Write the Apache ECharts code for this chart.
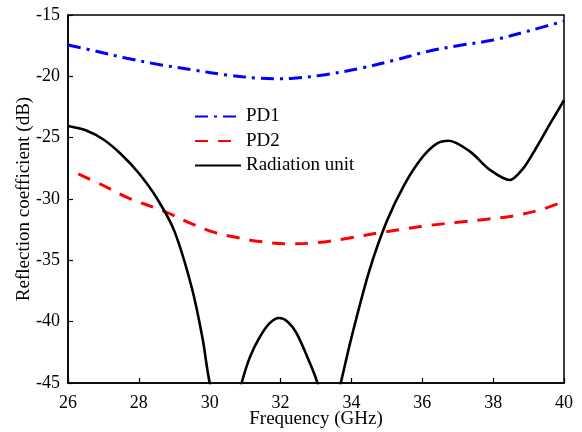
<!DOCTYPE html>
<html>
<head>
<meta charset="utf-8">
<script src="https://cdn.jsdelivr.net/npm/echarts@6/dist/echarts.min.js"></script>
<style>html,body{margin:0;padding:0;background:#fff}#c{width:582px;height:432px}</style>
</head>
<body>
<div id="c"></div>
<script>
// Frequency ticks
var xTicks = [26, 28, 30, 32, 34, 36, 38, 40];
var yTicks = [-45, -40, -35, -30, -25, -20, -15];

// PD1
var pd1Freq = [26.0, 26.8, 27.66, 28.6, 29.54, 30.5, 31.42, 31.9, 32.36, 33.3, 34.24, 35.2, 36.12, 37.0, 38.0, 39.0, 40.0];
var pd1Vals = [-17.44, -17.95, -18.53, -19.05, -19.48, -19.9, -20.16, -20.2, -20.16, -19.85, -19.35, -18.7, -17.99, -17.5, -17.04, -16.3, -15.5];

// PD2
var pd2Freq = [26.29, 27.0, 27.66, 28.74, 29.4, 30.06, 30.7, 31.42, 32.27, 33.02, 33.9, 34.88, 35.6, 36.31, 37.0, 37.82, 38.57, 39.32, 40.0];
var pd2Vals = [-27.96, -28.9, -29.86, -31.03, -31.9, -32.66, -33.1, -33.47, -33.66, -33.56, -33.2, -32.71, -32.4, -32.11, -31.9, -31.65, -31.38, -30.89, -30.21];

// Radiation unit (points below -45 lie outside the axis and are clipped)
var radFreq = [26.0, 26.5, 27.0, 27.5, 28.0, 28.5, 29.0, 29.5, 29.8, 30.0, 30.45, 30.9, 31.14, 31.42, 31.7, 31.96, 32.2, 32.45, 32.83, 33.04, 33.37, 33.7, 34.0, 34.5, 35.0, 35.5, 36.0, 36.4, 36.75, 37.35, 37.91, 38.47, 38.85, 39.2, 39.6, 40.0];
var radVals = [-24.05, -24.4, -25.15, -26.35, -27.9, -29.9, -32.6, -37.3, -41.4, -45.0, -50.0, -45.0, -42.85, -41.22, -40.1, -39.7, -40.0, -40.94, -43.39, -45.0, -49.0, -45.0, -41.3, -35.9, -31.8, -28.8, -26.6, -25.5, -25.25, -26.14, -27.63, -28.45, -27.5, -25.9, -23.9, -21.95];

function pairs(xs, ys) { return xs.map(function (x, i) { return [x, ys[i]]; }); }

var FONT = 'Liberation Serif';
var chart = echarts.init(document.getElementById('c'), null, {renderer: 'canvas'});
chart.setOption({
  animation: false,
  backgroundColor: '#fff',
  grid: {left: 68, right: 18, top: 15, bottom: 49, containLabel: false, outerBoundsMode: 'none',
         show: true, borderColor: '#000', borderWidth: 1.5, backgroundColor: 'transparent'},
  legend: {
    orient: 'vertical', left: 194, top: 107, padding: 0, itemWidth: 46, itemHeight: 14, itemGap: 5.5,
    itemStyle: {opacity: 0},
    textStyle: {fontFamily: FONT, fontSize: 19, color: '#000'},
    data: ['PD1', 'PD2', 'Radiation unit']
  },
  xAxis: {
    type: 'value', min: xTicks[0], max: xTicks[xTicks.length - 1], interval: 2,
    name: 'Frequency (GHz)', nameLocation: 'middle', nameGap: 27, nameMoveOverlap: false,
    nameTextStyle: {fontFamily: FONT, fontSize: 19, color: '#000'},
    axisLine: {show: true, lineStyle: {color: '#000', width: 1.5}},
    axisTick: {show: true, inside: true, length: 5, lineStyle: {color: '#000', width: 1.2}},
    axisLabel: {fontFamily: FONT, fontSize: 18, color: '#000', margin: 11},
    splitLine: {show: false}
  },
  yAxis: {
    type: 'value', min: yTicks[0], max: yTicks[yTicks.length - 1], interval: 5,
    name: 'Reflection coefficient (dB)', nameLocation: 'middle', nameGap: 34, nameMoveOverlap: false,
    nameTextStyle: {fontFamily: FONT, fontSize: 19, color: '#000'},
    axisLine: {show: true, lineStyle: {color: '#000', width: 1.5}},
    axisTick: {show: true, inside: true, length: 5, lineStyle: {color: '#000', width: 1.2}},
    axisLabel: {fontFamily: FONT, fontSize: 18, color: '#000', margin: 8},
    splitLine: {show: false}
  },
  series: [
    {name: 'PD1', type: 'line', smooth: 0.35, symbol: 'none', clip: true,
     data: pairs(pd1Freq, pd1Vals), itemStyle: {color: '#0000ff'},
     lineStyle: {color: '#0000ff', width: 3, type: [13, 6, 3, 6]}},
    {name: 'PD2', type: 'line', smooth: 0.35, symbol: 'none', clip: true,
     data: pairs(pd2Freq, pd2Vals), itemStyle: {color: '#ff0000'},
     lineStyle: {color: '#ff0000', width: 3, type: [13, 10]}},
    {name: 'Radiation unit', type: 'line', smooth: 0.3, symbol: 'none', clip: true,
     data: pairs(radFreq, radVals), itemStyle: {color: '#000'},
     lineStyle: {color: '#000', width: 2.6, type: 'solid'}}
  ]
});
</script>
</body>
</html>
